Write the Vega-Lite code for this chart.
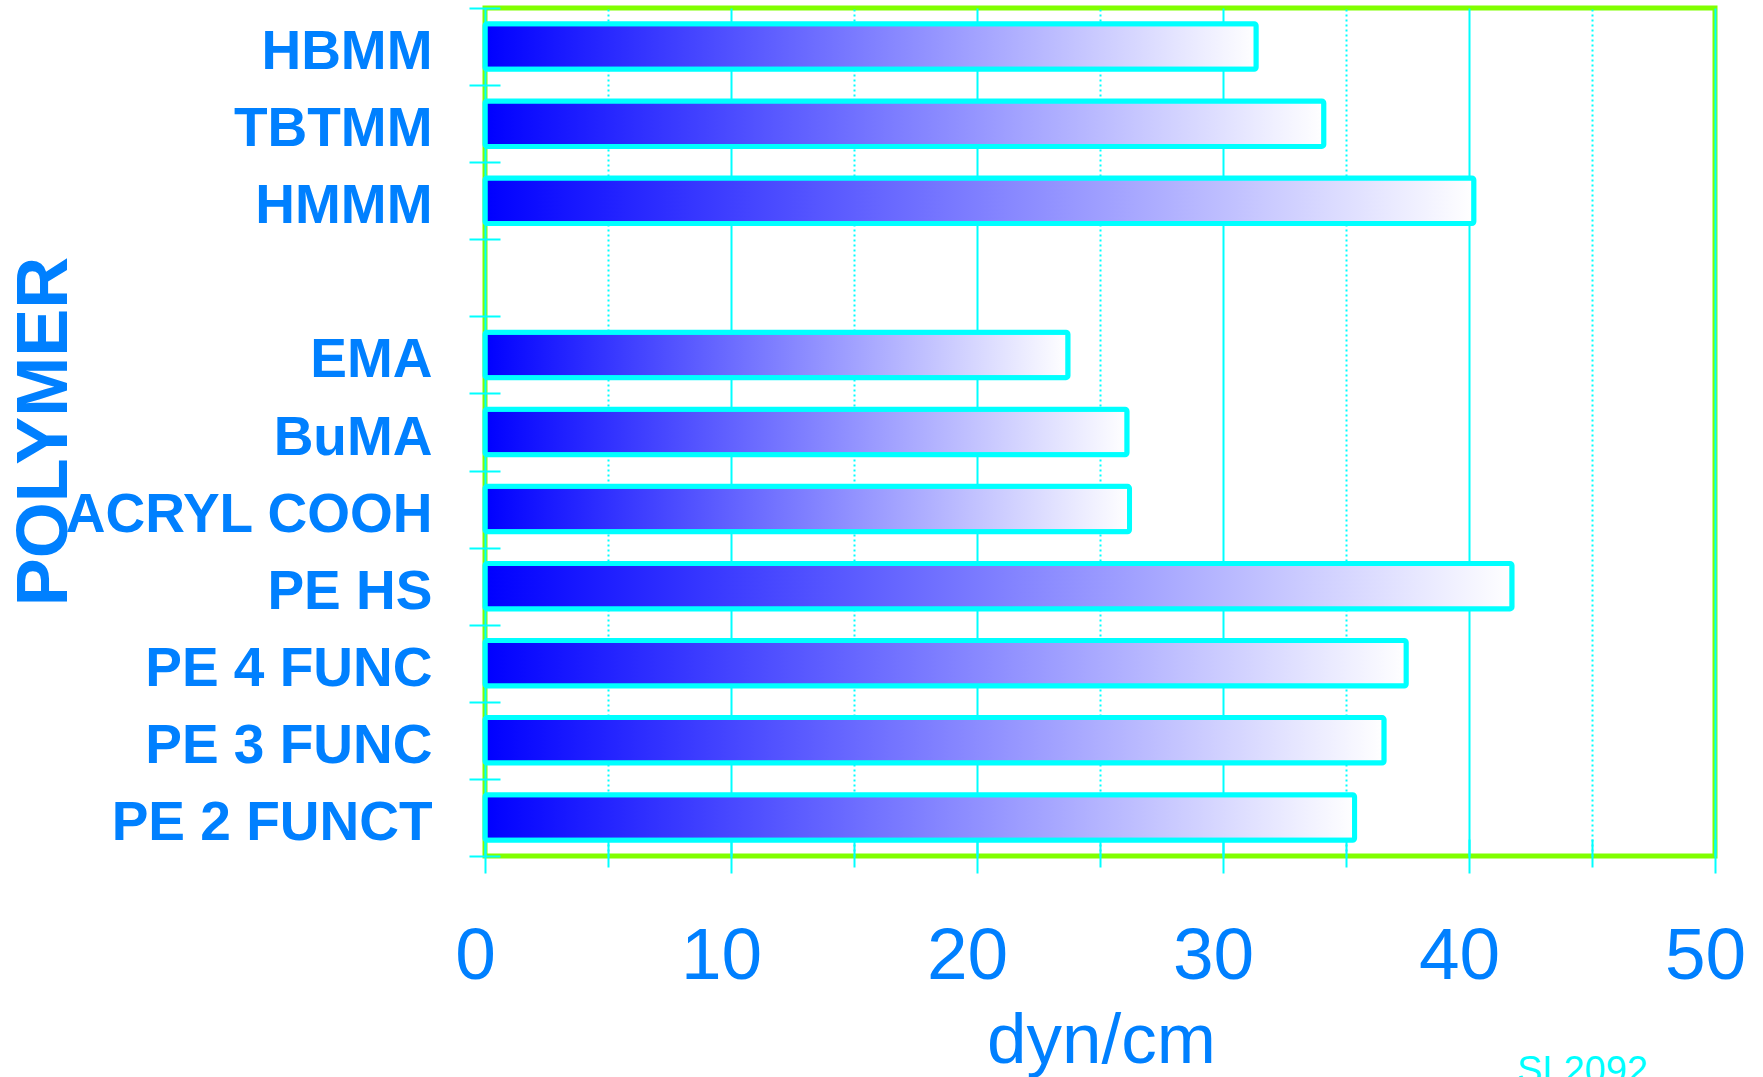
{
  "$schema": "https://vega.github.io/schema/vega-lite/v6.json",
  "autosize": "none",
  "width": 1230,
  "height": 848,
  "padding": {"left": 485, "top": 8, "right": 48, "bottom": 221},
  "background": "white",
  "title": {
    "text": "SL2092",
    "orient": "bottom",
    "anchor": "end",
    "frame": "group",
    "font": "Liberation Sans",
    "fontSize": 38,
    "fontWeight": "normal",
    "color": "#00FFFF",
    "baseline": "alphabetic",
    "dx": -67,
    "dy": 7,
    "offset": 0
  },
  "config": {
    "view": {"stroke": "#80FF00", "strokeWidth": 5}
  },
  "data": {
    "values": [
      {"polymer": "HBMM", "value": 31.35},
      {"polymer": "TBTMM", "value": 34.1},
      {"polymer": "HMMM", "value": 40.2},
      {"polymer": "EMA", "value": 23.7},
      {"polymer": "BuMA", "value": 26.1},
      {"polymer": "ACRYL COOH", "value": 26.2},
      {"polymer": "PE HS", "value": 41.75},
      {"polymer": "PE 4 FUNC", "value": 37.45},
      {"polymer": "PE 3 FUNC", "value": 36.55},
      {"polymer": "PE 2 FUNCT", "value": 35.35}
    ]
  },
  "mark": {
    "type": "bar",
    "height": {"band": 0.59},
    "fill": {
      "gradient": "linear",
      "x1": 0, "y1": 0, "x2": 1, "y2": 0,
      "stops": [
        {"offset": 0, "color": "#0000FF"},
        {"offset": 1, "color": "#FFFFFF"}
      ]
    },
    "stroke": "#00FFFF",
    "strokeWidth": 5,
    "cornerRadius": 2
  },
  "encoding": {
    "y": {
      "field": "polymer",
      "type": "nominal",
      "sort": null,
      "scale": {
        "domain": ["HBMM", "TBTMM", "HMMM", " ", "EMA", "BuMA", "ACRYL COOH", "PE HS", "PE 4 FUNC", "PE 3 FUNC", "PE 2 FUNCT"],
        "paddingInner": 0,
        "paddingOuter": 0
      },
      "axis": {
        "title": "POLYMER",
        "offset": -15,
        "tickSize": 31,
        "tickBand": "extent",
        "tickColor": "#00FFFF",
        "tickWidth": 2,
        "domain": false,
        "grid": false,
        "labelFont": "Liberation Sans",
        "labelFontWeight": "bold",
        "labelFontSize": 55,
        "labelColor": "#0080FF",
        "labelPadding": 37,
        "labelOffset": 5,
        "labelLimit": 1000,
        "labelBaseline": "middle",
        "titleFont": "Liberation Sans",
        "titleFontWeight": "bold",
        "titleFontSize": 72,
        "titleColor": "#0080FF",
        "titleAngle": 270,
        "titleAlign": "center",
        "titleBaseline": "alphabetic",
        "titleX": -434,
        "titleY": 423
      }
    },
    "x": {
      "field": "value",
      "type": "quantitative",
      "scale": {"domain": [0, 50], "nice": false, "zero": true},
      "axis": {
        "values": [0, 5, 10, 15, 20, 25, 30, 35, 40, 45, 50],
        "labelExpr": "datum.value % 10 === 0 ? datum.label : ''",
        "offset": -17,
        "domain": false,
        "grid": true,
        "gridColor": "#00FFFF",
        "gridWidth": 2,
        "gridDash": {"condition": {"test": "datum.value % 10 !== 0", "value": [2, 3]}, "value": []},
        "tickColor": "#00FFFF",
        "tickWidth": 2,
        "tickSize": {"condition": {"test": "datum.value % 10 !== 0", "value": 28}, "value": 34},
        "labelFont": "Liberation Sans",
        "labelFontSize": 73,
        "labelColor": "#0080FF",
        "labelBaseline": "alphabetic",
        "labelPadding": 105,
        "labelOffset": -10,
        "labelFlush": false,
        "labelOverlap": false,
        "title": "dyn/cm",
        "titleFont": "Liberation Sans",
        "titleFontSize": 71,
        "titleFontWeight": "normal",
        "titleColor": "#0080FF",
        "titleBaseline": "alphabetic",
        "titleAlign": "center",
        "titleX": 616,
        "titleY": 223
      }
    }
  }
}
